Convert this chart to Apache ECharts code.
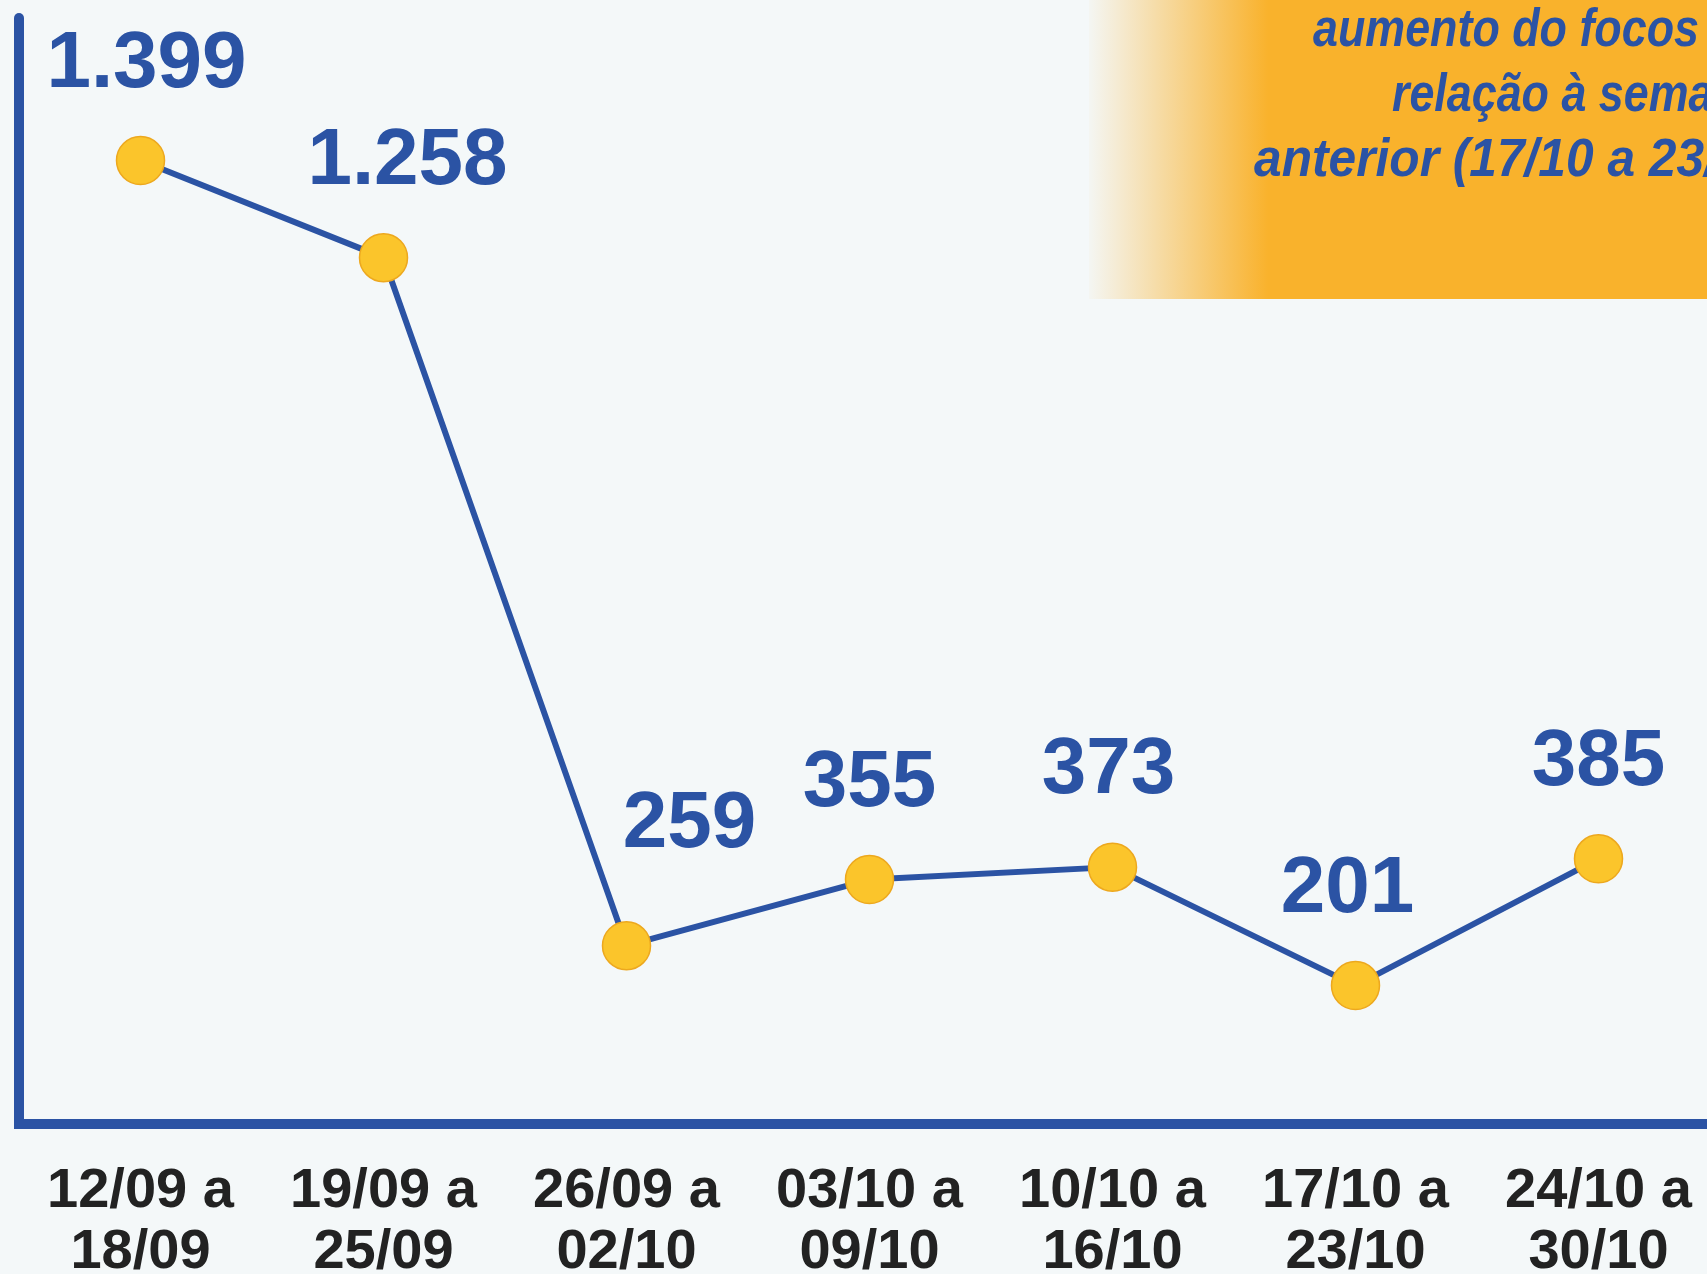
<!DOCTYPE html>
<html>
<head>
<meta charset="utf-8">
<script src="https://cdn.jsdelivr.net/npm/echarts@6/dist/echarts.min.js"></script>
<style>
html,body{margin:0;padding:0;background:#F4F8F9;}
#chart{width:1707px;height:1274px;}
</style>
</head>
<body>
<div id="chart"></div>
<script>
// Data
const categories = ['12/09 a\n18/09', '19/09 a\n25/09', '26/09 a\n02/10', '03/10 a\n09/10', '10/10 a\n16/10', '17/10 a\n23/10', '24/10 a\n30/10'];
const focos = [1399, 1258, 259, 355, 373, 201, 385];
const noteLines = ['aumento do focos em', 'relação à semana', 'anterior (17/10 a 23/10)'];

// label placement tweaks (layout only)
const labelShift = [[6, 0], [24, 0], [63, -25], [0, 0], [-4, 0], [-8, 0], [0, 0]];

function fmt(v) {
  return String(v).replace(/\B(?=(\d{3})+(?!\d))/g, '.');
}

const BLUE = '#2B53A4';
const chart = echarts.init(document.getElementById('chart'), null, {renderer: 'canvas'});

const seriesData = focos.map((v, i) => ({
  value: v,
  label: {offset: labelShift[i]}
}));

const noteX = [1313, 1392, 1254];
const noteY = [58, 123, 188];
const noteScale = [0.83, 0.83, 0.92];

const graphics = [{
  type: 'rect',
  z: -1,
  shape: {x: 1089, y: 0, width: 640, height: 299},
  style: {
    fill: {
      type: 'linear', x: 0, y: 0, x2: 1, y2: 0,
      colorStops: [
        {offset: 0, color: 'rgba(249,178,44,0.03)'},
        {offset: 0.28, color: '#F9B22C'},
        {offset: 1, color: '#F9B22C'}
      ]
    }
  }
}].concat(noteLines.map((t, i) => ({
  type: 'text',
  x: noteX[i],
  y: noteY[i],
  scaleX: noteScale[i],
  z: 10,
  style: {
    text: t,
    fill: BLUE,
    font: 'italic bold 54px "Liberation Sans", Arial, sans-serif',
    textAlign: 'left',
    textVerticalAlign: 'bottom',
    verticalAlign: 'bottom'
  }
})));

chart.setOption({
  backgroundColor: '#F4F8F9',
  animation: false,
  grid: {left: 19, top: 18, bottom: 150, width: 1701, containLabel: false, outerBoundsMode: 'none'},
  xAxis: {
    type: 'category',
    data: categories,
    boundaryGap: true,
    axisLine: {show: true, lineStyle: {color: BLUE, width: 10, cap: 'square'}},
    axisTick: {show: false},
    splitLine: {show: false},
    axisLabel: {
      color: '#222222',
      fontSize: 56,
      fontWeight: 'bold',
      fontFamily: '"Liberation Sans", Arial, sans-serif',
      lineHeight: 61,
      margin: 37,
      interval: 0
    }
  },
  yAxis: {
    type: 'value',
    min: 0,
    max: 1606,
    axisLine: {show: true, lineStyle: {color: BLUE, width: 10}},
    axisTick: {show: false},
    axisLabel: {show: false},
    splitLine: {show: false}
  },
  series: [{
    type: 'line',
    data: seriesData,
    symbol: 'circle',
    symbolSize: 48,
    lineStyle: {color: BLUE, width: 6},
    itemStyle: {color: '#FBC52B', borderColor: '#EDA81E', borderWidth: 1.5},
    z: 3,
    label: {
      show: true,
      position: 'top',
      distance: 31,
      color: BLUE,
      fontSize: 80,
      fontWeight: 'bold',
      fontFamily: '"Liberation Sans", Arial, sans-serif',
      formatter: p => fmt(p.value)
    }
  }],
  graphic: graphics
});
</script>
</body>
</html>
